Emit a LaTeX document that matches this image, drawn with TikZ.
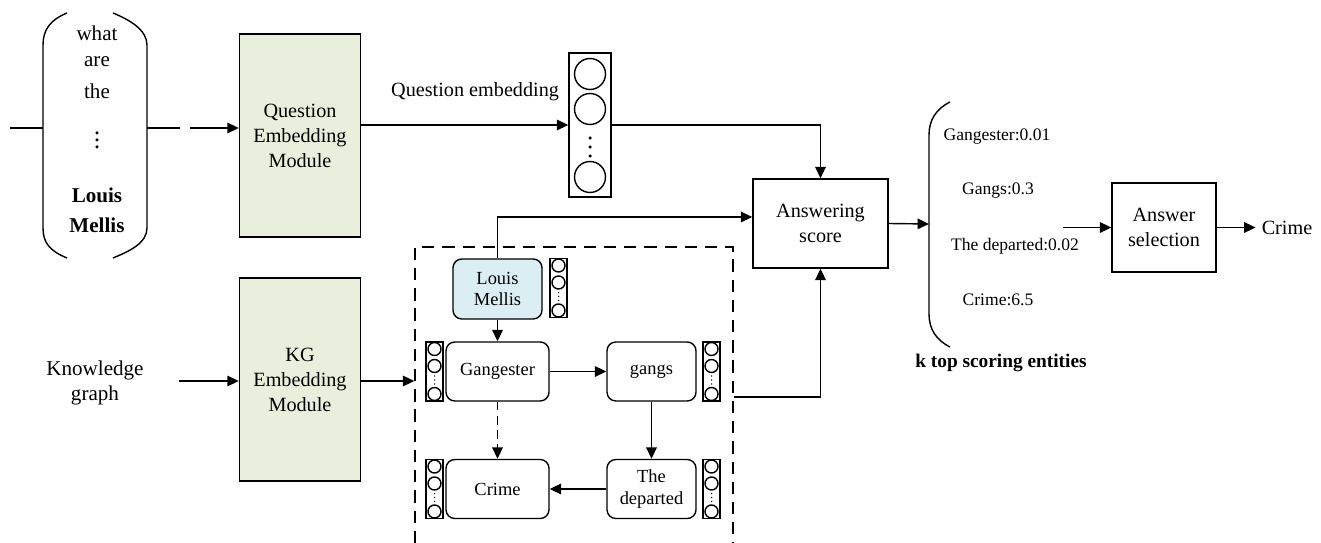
\documentclass[tikz,border=0pt]{standalone}
\usepackage{fontspec}
\setmainfont{Liberation Serif}
\usetikzlibrary{arrows.meta,positioning}

\definecolor{modgreen}{HTML}{E9EFDD}
\definecolor{entblue}{HTML}{DAEEF3}

\tikzset{
	line/.style={line width=0.8pt},
	arr/.style={line width=0.8pt,-{Triangle[length=6.5pt,width=6pt]}},
	module/.style={draw,line width=0.8pt,fill=modgreen,minimum width=2.42cm,minimum height=4.06cm,
		align=center,font=\fontsize{11.5}{14.2}\selectfont},
	plainbox/.style={draw,line width=0.8pt,minimum height=1.78cm,align=center,
		font=\fontsize{11.5}{14}\selectfont},
	ent/.style={draw,line width=0.8pt,rounded corners=5pt,minimum height=1.18cm,align=center,
		font=\fontsize{10.5}{12.5}\selectfont},
	vecbox/.style={draw,line width=0.8pt,fill=white,minimum width=0.34cm,minimum height=1.18cm,inner sep=0pt},
	word/.style={font=\fontsize{11.5}{14}\selectfont,align=center},
	qword/.style={font=\fontsize{12}{14}\selectfont,inner sep=0.5pt},
	score/.style={font=\fontsize{10}{12}\selectfont},
}

\begin{document}
\begin{tikzpicture}[x=0.02cm,y=-0.02cm]

		\useasboundingbox (0,0) rectangle (1321,543);

		% question in brackets
		\node[qword] (w1) at (97,33) {what};
		\node[qword] (w2) at (97,62) {are};
		\node[qword] (w3) at (97,91) {the};
		\foreach \dy in {133,140,147}
			\fill (97,\dy) circle[radius=0.035cm];
		\node[qword] (w5) at (97,195) {\textbf{Louis}};
		\node[qword] (w6) at (97,225) {\textbf{Mellis}};
		\draw[line] (67,13) .. controls (50,20) and (43,30) .. (43,45) -- (43,228)
			.. controls (43,243) and (50,251) .. (67,258);
		\draw[line] (113,13) .. controls (130,20) and (147,30) .. (147,45) -- (147,228)
			.. controls (147,243) and (130,251) .. (113,258);
		\coordinate (qlead) at (10,128);
		\coordinate (qin) at (43,128);
		\coordinate (qout) at (147,128);
		\coordinate (qcut) at (180,128);
		\coordinate (qgap) at (190,128);
		\draw[line] (qlead) -- (qin);
		\draw[line] (qout) -- (qcut);

		% modules
		\node[module] (qem) at (300,135.5) {Question\\Embedding\\Module};
		\node[module] (kgm) at (300,379.5) {KG\\Embedding\\Module};
		\draw[arr] (qgap) -- (qgap -| qem.west);

		\node[word,font=\fontsize{12}{14.5}\selectfont] (kg) at (95,383) {Knowledge\\graph};
		\coordinate (kgin) at (179,381);
		\draw[arr] (kgin) -- (kgin -| kgm.west);

		% question embedding vector
		\node[draw,line width=0.8pt,fill=white,minimum width=0.84cm,minimum height=2.88cm,inner sep=0pt]
			(qvec) at (590,125) {};
		\foreach \dy in {-51,-16,52}
			\draw[line] (590,125+\dy) circle[radius=0.31cm];
		\foreach \dy in {13,22,31}
			\fill (590,125+\dy) circle[radius=0.035cm];
		\draw[arr] (qem.east |- qvec.west) -- (qvec.west)
			node[pos=0.55,above=10pt,word] (qlbl) {Question embedding};

		% sub graph
		\node[draw,line width=0.8pt,dash pattern=on 7pt off 4.5pt,minimum width=6.36cm,minimum height=6.26cm]
			(sub) at (574,403.5) {};
		\node[ent,fill=entblue,minimum width=1.78cm,minimum height=1.2cm] (lm) at (497.5,289) {Louis\\Mellis};
		\node[ent,minimum width=2.06cm] (ga) at (497.5,371.5) {Gangester};
		\node[ent,minimum width=1.78cm] (gs) at (651.5,371.5) {gangs};
		\node[ent,minimum width=2.06cm] (cr) at (497.5,489) {Crime};
		\node[ent,minimum width=1.78cm] (td) at (651.5,489) {The\\departed};

		\foreach \nm/\cx/\cy in {lmv/558.5/288, gav/434.5/371.5, gsv/711.5/371.5, crv/434.5/489, tdv/711.5/489} {
			\node[vecbox] (\nm) at (\cx,\cy) {};
			\foreach \dy in {-22.5,-5.5,22.5}
				\draw[line] (\cx,\cy+\dy) circle[radius=0.13cm];
			\foreach \dy in {4.5,8.5,12.5}
				\fill (\cx,\cy+\dy) circle[radius=0.015cm];
		}

		\draw[arr] (lm) -- (ga);
		\draw[arr] (ga) -- (gs);
		\draw[arr] (gs) -- (td);
		\draw[arr] (td) -- (cr);
		\draw[arr,dash pattern=on 5pt off 3pt] (ga) -- (cr);

		\draw[arr] (kgm.east |- kgin) -- (kgm.east |- kgin -| sub.west);

		% scoring
		\node[plainbox,minimum width=2.7cm] (ans) at (820.5,223.5) {Answering\\score};
		\draw[arr] (qvec.east) -| (ans.north);
		\draw[arr] (lm.north) |- ([yshift=3.7pt]ans.west);
		\draw[arr] ([yshift=3.7pt]sub.east) -| (ans.south);

		\coordinate (kbr) at (929,224);
		\draw[arr] (ans.east) -- (kbr);
		\draw[line] (950,102) .. controls (936,109) and (929,120) .. (929,135) -- (929,314)
			.. controls (929,329) and (936,340) .. (950,347);

		\node[score] (s1) at (997,137) {Gangester:0.01};
		\node[score] (s2) at (998,191) {Gangs:0.3};
		\node[score] (s3) at (1015,246) {The departed:0.02};
		\node[score] (s4) at (998,300) {Crime:6.5};
		\node[font=\fontsize{11}{13}\bfseries] (topk) at (1001,363) {k top scoring entities};

		\node[plainbox,minimum width=2.08cm] (sel) at (1164,227.5) {Answer\\selection};
		\coordinate (selin) at (1063,227.5);
		\draw[arr] (selin) -- (sel.west);
		\node[word] (out) at (1287,227.5) {Crime};
		\draw[arr] (sel.east) -- (out.west);

\end{tikzpicture}
\end{document}
